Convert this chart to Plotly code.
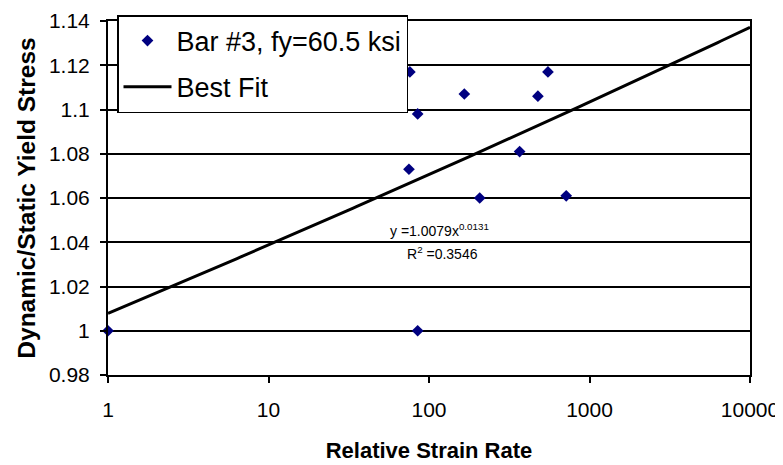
import numpy as np
import plotly.graph_objects as go

# Measured data (relative strain rate vs dynamic/static yield stress)
strain_rate = [1, 76, 85, 75, 85, 166, 207, 367, 477, 551, 716]
stress_ratio = [1.000, 1.117, 1.098, 1.073, 1.000, 1.107, 1.060, 1.081, 1.106, 1.117, 1.061]

# Best-fit power law reported on the chart: y = a * x^b
fit_a = 1.0079
fit_b = 0.0131
fit_r2 = 0.3546

x_ticks = [1, 10, 100, 1000, 10000]
x_ticktext = ["1", "10", "100", "1000", "10000"]
y_ticks = [0.98, 1.00, 1.02, 1.04, 1.06, 1.08, 1.10, 1.12, 1.14]
y_ticktext = ["0.98", "1", "1.02", "1.04", "1.06", "1.08", "1.1", "1.12", "1.14"]

fit_x = np.logspace(0, 4, 200)
fit_y = fit_a * fit_x ** fit_b

FONT = "Liberation Sans, Arial, sans-serif"

fig = go.Figure()
fig.add_trace(go.Scatter(
    x=strain_rate, y=stress_ratio, mode="markers",
    name="Bar #3, fy=60.5 ksi", legendgroup="a",
    marker=dict(symbol="diamond", size=9, color="#000080"),
    cliponaxis=False,
))
fig.add_trace(go.Scatter(
    x=fit_x, y=fit_y, mode="lines", name="Best Fit", legendgroup="b",
    line=dict(color="black", width=3),
))

# page body adds an 8px offset, so the figure is 8px smaller and margins shifted
OFF = 8
W, H = 783 - OFF, 465 - OFF
L, R, T, B = 108 - OFF, 33, 21 - OFF, 90
pw = W - L - R
ph = H - T - B

def px2paper(px, py):
    px -= OFF
    py -= OFF
    return (px - L) / pw, (H - B - py) / ph

ax1, ay1 = px2paper(388, 230)
ax2, ay2 = px2paper(405, 253)
lx, ly = px2paper(117, 15)

fig.update_layout(
    width=W, height=H,
    margin=dict(l=L, r=R, t=T, b=B, autoexpand=False),
    paper_bgcolor="white", plot_bgcolor="white",
    font=dict(family=FONT, color="black", size=21),
    showlegend=True,
    legend=dict(
        x=lx, y=ly, xanchor="left", yanchor="top",
        bgcolor="white", bordercolor="black", borderwidth=1.5,
        font=dict(family=FONT, size=27, color="black"),
        tracegroupgap=8, itemwidth=48,
    ),
    xaxis=dict(
        type="log", range=[0, 4], automargin=False,
        tickvals=x_ticks, ticktext=x_ticktext,
        showgrid=False, zeroline=False,
        showline=True, linecolor="black", linewidth=2, mirror=True,
        ticks="outside", ticklen=6, tickwidth=2, tickcolor="black",
        ticklabelstandoff=9,
        title=dict(text="<b>Relative Strain Rate</b>", font=dict(size=22), standoff=22),
    ),
    yaxis=dict(
        range=[0.98, 1.14], automargin=False,
        tickvals=y_ticks, ticktext=y_ticktext,
        showgrid=True, gridcolor="black", gridwidth=1.5,
        zeroline=False,
        showline=True, linecolor="black", linewidth=2, mirror=True,
        ticks="outside", ticklen=6, tickwidth=2, tickcolor="black",
        ticklabelstandoff=6,
        title=dict(text="<b>Dynamic/Static Yield Stress</b>", font=dict(size=24.5), standoff=6),
    ),
    annotations=[
        dict(xref="paper", yref="paper", x=ax1, y=ay1, xanchor="left", yanchor="middle",
             text="y =%.4fx<sup>%.4f</sup>" % (fit_a, fit_b), showarrow=False,
             font=dict(size=14, family=FONT)),
        dict(xref="paper", yref="paper", x=ax2, y=ay2, xanchor="left", yanchor="middle",
             text="R<sup>2</sup> =%.4f" % fit_r2, showarrow=False,
             font=dict(size=14, family=FONT)),
    ],
)

fig.write_html("out.html")
